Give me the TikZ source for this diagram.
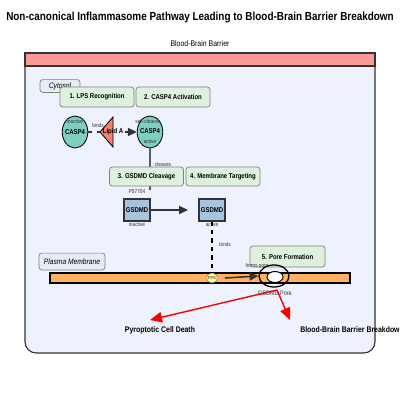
\documentclass[tikz,border=0pt]{standalone}
\usepackage{fontspec}
\setmainfont{Liberation Sans}[FakeStretch=0.85]
\usetikzlibrary{arrows.meta,shapes.geometric}
\definecolor{bbbfill}{HTML}{EEF2FD}
\definecolor{bandred}{HTML}{FF9999}
\definecolor{stepfill}{HTML}{DDF1DD}
\definecolor{cytofill}{HTML}{E4EEF4}
\definecolor{caspfill}{HTML}{7FCFBF}
\definecolor{lipidfill}{HTML}{F4806E}
\definecolor{gsdfill}{HTML}{A8C4DC}
\definecolor{membfill}{HTML}{FFB062}
\definecolor{pipfill}{HTML}{FFFFA8}
\definecolor{darkline}{HTML}{333333}
\newcommand{\fs}[1]{\fontsize{#1}{#1}\selectfont}
\begin{document}
\begin{tikzpicture}[x=0.25mm,y=-0.25mm,
  stepbox/.style={draw=gray,fill=stepfill,rounded corners=2pt,line width=0.5pt,
    minimum width=18.5mm,minimum height=5mm,inner sep=0pt,font=\bfseries\fs{5}},
  tag/.style={draw=gray,fill=cytofill,rounded corners=2pt,line width=0.5pt,
    inner sep=0pt,font=\itshape\fs{5.6}},
  casp/.style={ellipse,draw=black,fill=caspfill,line width=0.6pt,inner sep=0pt,
    minimum width=6.4mm,minimum height=8mm},
  gsd/.style={draw=darkline,fill=gsdfill,line width=0.8pt,inner sep=0pt,
    minimum width=6.5mm,minimum height=5.5mm,font=\bfseries\fs{5}},
  tiny/.style={font=\fs{4},inner sep=0pt,text=darkline},
  blkarrow/.style={draw=darkline,line width=1.1pt,-{Triangle[length=2.2mm,width=2mm]}},
  redarrow/.style={draw=red,line width=1pt,-{Triangle[length=3mm,width=2.6mm]}}]
\useasboundingbox (0,0) rectangle (400,400);
\fill[white] (0,0) rectangle (400,400);
% title
\node[font=\bfseries\fs{8.3}] (title) at (200,18) {Non-canonical Inflammasome Pathway Leading to Blood-Brain Barrier Breakdown};
\node[font=\fs{5.8}] (bbblabel) at (200,44) {Blood-Brain Barrier};
% outer box
\draw[fill=bbbfill,draw=darkline,line width=0.8pt,rounded corners=8] (25,53) rectangle (375,353);
\draw[fill=bandred,draw=darkline,line width=0.8pt] (25,53) rectangle (375,66);
% region labels
\node[tag,minimum width=10mm,minimum height=3.2mm] (cyto) at (60,86) {Cytosol};
\node[tag,minimum width=16.5mm,minimum height=4.2mm] (pm) at (72,261.5) {Plasma Membrane};
% membrane
\draw[fill=membfill,draw=black,line width=0.8pt] (50,273) rectangle (350,283);
% lipid A
\coordinate (liptip) at (100,132);
\coordinate (lipout) at (125,132);
\draw[fill=lipidfill,draw=black,line width=0.6pt] (100,132) -- (113,117) -- (113,147) -- cycle;
% CASP4 nodes
\node[casp] (c4i) at (75,132) {};
\node[casp] (c4a) at (150,132) {};
\node[font=\bfseries\fs{5}] at (c4i) {CASP4};
\node[tiny] at (75,121) {inactive};
\node[font=\bfseries\fs{5}] (lipid) at (113,132) {Lipid A};
\node[tiny] at (98,125) {binds};
\node[font=\bfseries\fs{5}] at (150,131) {CASP4};
\node[tiny] at (148,121.5) {self-cleaves};
\node[tiny] at (150,141) {active};
% connectors
\draw[dashed,line width=0.8pt,draw=darkline] (c4i.east) -- (liptip);
\draw[blkarrow] (lipout) -- (c4a.west);
\coordinate (cleaveend) at (150,190);
\draw[draw=darkline!80,line width=0.8pt] (c4a.south) -- (cleaveend);
\node[tiny] at (163,164) {cleaves};
% step boxes
\node[stepbox] (s1) at (97,97) {1. LPS Recognition};
\node[stepbox] (s2) at (173,97) {2. CASP4 Activation};
\node[stepbox,minimum height=4.75mm] (s3) at (146.5,176.5) {3. GSDMD Cleavage};
\node[stepbox,minimum height=4.75mm] (s4) at (223,176.5) {4. Membrane Targeting};
\node[tiny] at (137,192) {P57704};
% GSDMD
\node[gsd] (gi) at (137,210) {GSDMD};
\node[gsd] (ga) at (212,210) {GSDMD};
\node[tiny] at (137,224) {inactive};
\node[tiny] at (212,224) {active};
\coordinate (gend) at (188,210);
\draw[blkarrow] (gi.east) -- (gend);
% PIP2
\node[ellipse,draw=gray,fill=pipfill,line width=0.4pt,minimum width=2mm,minimum height=2.5mm,inner sep=0pt,font=\fs{3}] (pip) at (212,278) {PIP2};
\draw[dashed,line width=0.8pt,draw=black] (ga.south) -- (pip.north);
\node[tiny] at (225,244) {binds};
% pore
\node[stepbox,minimum width=18.75mm,minimum height=5.25mm,font=\bfseries\fs{5}] (s5) at (287.5,256.5) {5. Pore Formation};
\node[ellipse,draw=black,line width=0.9pt,minimum width=7.5mm,minimum height=5.5mm,inner sep=0pt] (pore) at (274,276) {};
\node[ellipse,draw=black,fill=white,line width=0.7pt,minimum width=4mm,minimum height=2.75mm,inner sep=0pt] (porein) at (275,277) {};
\coordinate (pipout) at (225,278);
\draw[blkarrow] (pipout) -- (pore.west);
\node[tiny] at (257,266.5) {forms pore};
\node[font=\fs{4.6},text=darkline] (porelabel) at (275,293) {GSDMD Pore};
% outcomes
\coordinate (poreout) at (277,290);
\node[font=\bfseries\fs{5.8}] (pyro) at (160,330) {Pyroptotic Cell Death};
\node[font=\bfseries\fs{5.8},anchor=west,inner sep=0pt] (bbb) at (300,330) {Blood-Brain Barrier Breakdown};
\coordinate (pyrotip) at (150,320);
\coordinate (bbbtip) at (290,320);
\draw[redarrow] (poreout) -- (pyrotip);
\draw[redarrow] (poreout) -- (bbbtip);
\end{tikzpicture}
\end{document}
